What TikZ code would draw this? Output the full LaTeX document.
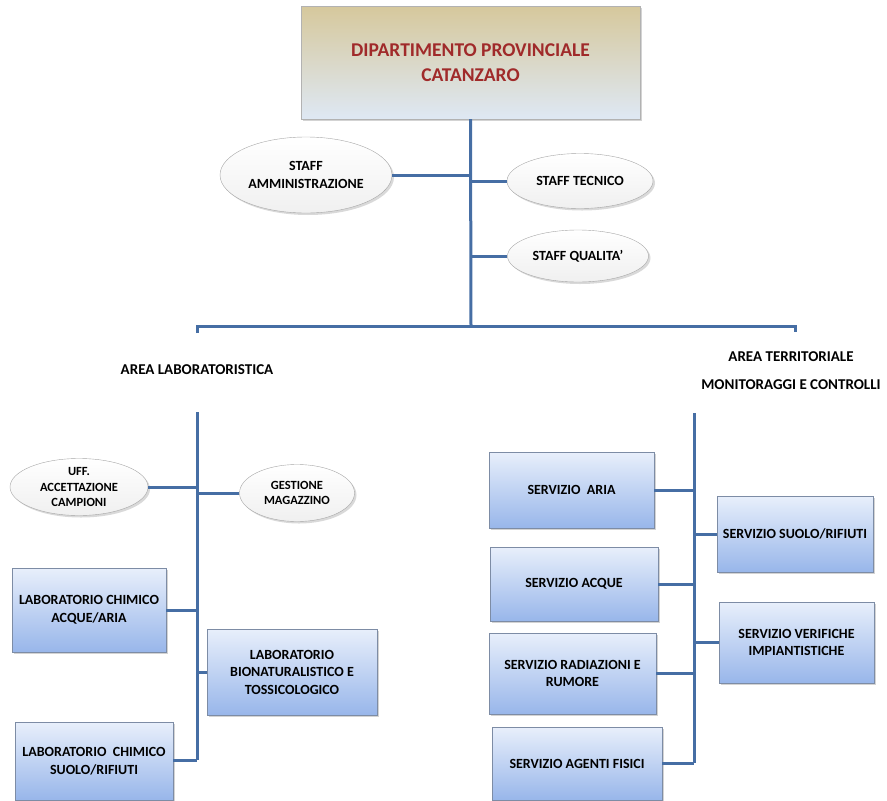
\documentclass[tikz,border=0pt]{standalone}
\usepackage{fontspec}
\setmainfont{Carlito}
\usetikzlibrary{shapes.geometric,shadows}

\definecolor{trunkblue}{RGB}{70,110,164}
\definecolor{titlered}{RGB}{160,42,42}
\definecolor{boxtop}{RGB}{232,239,251}
\definecolor{boxbot}{RGB}{152,182,234}
\definecolor{boxline}{RGB}{125,140,165}
\definecolor{headtop}{RGB}{214,200,156}
\definecolor{headbot}{RGB}{222,232,244}

\tikzset{
  unit/.style={rectangle,draw=boxline,top color=boxtop,bottom color=boxbot,
    drop shadow={shadow xshift=2pt,shadow yshift=-2pt,opacity=0.35},
    inner sep=0pt,align=center,font=\fontsize{14}{17.5}\selectfont\bfseries},
  staff/.style={ellipse,draw=gray!70,top color=white,bottom color=gray!12,
    drop shadow={shadow xshift=2pt,shadow yshift=-2pt,opacity=0.3},
    inner sep=0pt,align=center,font=\fontsize{14}{17.5}\selectfont\bfseries},
  link/.style={draw=trunkblue,line width=3pt}
}

\begin{document}
\begin{tikzpicture}[x=1pt,y=-1pt]
   \useasboundingbox (0,0) rectangle (887,801);
   % head of the department
   \node[rectangle,draw=gray!60,top color=headtop,bottom color=headbot,
     drop shadow={shadow xshift=2pt,shadow yshift=-2pt,opacity=0.35},
     minimum width=339pt,minimum height=113pt,align=center,text=titlered,
     font=\fontsize{19.5}{25}\selectfont\bfseries]
     (dip) at (470.5,62.5) {DIPARTIMENTO PROVINCIALE\\CATANZARO};
   \begin{scope}[every node/.style={staff}]
    \node[minimum width=172pt,minimum height=76pt] (adm) at (306,175) {STAFF\\AMMINISTRAZIONE};
    \node[minimum width=146pt,minimum height=55pt] (tec) at (580,181) {STAFF TECNICO};
    \node[minimum width=141pt,minimum height=52pt] (qua) at (578,256) {STAFF QUALITA'};
    \node[minimum width=138pt,minimum height=57pt,font=\fontsize{12.5}{15.5}\selectfont\bfseries] (uff) at (79,487) {UFF.\\ACCETTAZIONE\\CAMPIONI};
    \node[minimum width=115pt,minimum height=57pt,font=\fontsize{12.5}{15.5}\selectfont\bfseries] (mag) at (297,493) {GESTIONE\\MAGAZZINO};
   \end{scope}
   % area titles
   \node[font=\fontsize{15}{17.5}\selectfont\bfseries] (lab) at (197,370) {AREA LABORATORISTICA};
   \node[align=center,font=\fontsize{15}{28}\selectfont\bfseries] (ter) at (791,371) {AREA TERRITORIALE\\MONITORAGGI E CONTROLLI};
   \begin{scope}[every node/.style={unit}]
    \node[minimum width=154pt,minimum height=84pt] (lca) at (89,610) {LABORATORIO CHIMICO\\ACQUE/ARIA};
    \node[minimum width=170pt,minimum height=86pt] (lbt) at (292,672) {LABORATORIO\\BIONATURALISTICO E\\TOSSICOLOGICO};
    \node[minimum width=158pt,minimum height=78pt] (lcs) at (94,761) {LABORATORIO\ \ CHIMICO\\SUOLO/RIFIUTI};
    \node[minimum width=165pt,minimum height=76pt] (sar) at (571.5,490) {SERVIZIO\ \ ARIA};
    \node[minimum width=168pt,minimum height=74pt] (sac) at (574,584) {SERVIZIO ACQUE};
    \node[minimum width=167pt,minimum height=81pt] (srr) at (572.5,673.5) {SERVIZIO RADIAZIONI E\\RUMORE};
    \node[minimum width=170pt,minimum height=73pt] (saf) at (577,763.5) {SERVIZIO AGENTI FISICI};
    \node[minimum width=156pt,minimum height=76pt] (ssr) at (795,534) {SERVIZIO SUOLO/RIFIUTI};
    \node[minimum width=155pt,minimum height=81pt] (svi) at (796.5,642.5) {SERVIZIO VERIFICHE\\IMPIANTISTICHE};
   \end{scope}
   % trunks
   \coordinate (hub) at (471,326);
   \coordinate (barL) at (197,326);
   \coordinate (barR) at (795,326);
   \coordinate (ltop) at (197,412);
   \coordinate (lbot) at (197,760);
   \coordinate (rtop) at (694,413);
   \coordinate (rbot) at (694,763);
   \begin{scope}[every path/.style={link}]
    \draw (dip.south) -- (hub);
    \draw ([yshift=-7pt]barL) -- (barL) -- (barR) -- ([yshift=-6pt]barR);
    \draw (adm.east) -- (adm.east -| hub);
    \draw (tec.west) -- (tec.west -| hub);
    \draw (qua.west) -- (qua.west -| hub);
    \draw (ltop) -- (lbot);
    \draw (uff.east) -- (uff.east -| ltop);
    \draw (mag.west) -- (mag.west -| ltop);
    \draw (lca.east) -- (lca.east -| ltop);
    \draw (lbt.west) -- (lbt.west -| ltop);
    \draw (lcs.east |- lbot) -- (lbot);
    \draw (rtop) -- (rbot);
    \draw (sar.east) -- (sar.east -| rtop);
    \draw (sac.east) -- (sac.east -| rtop);
    \draw (srr.east) -- (srr.east -| rtop);
    \draw (saf.east |- rbot) -- (rbot);
    \draw (ssr.west) -- (ssr.west -| rtop);
    \draw (svi.west) -- (svi.west -| rtop);
   \end{scope}
\end{tikzpicture}
\end{document}
